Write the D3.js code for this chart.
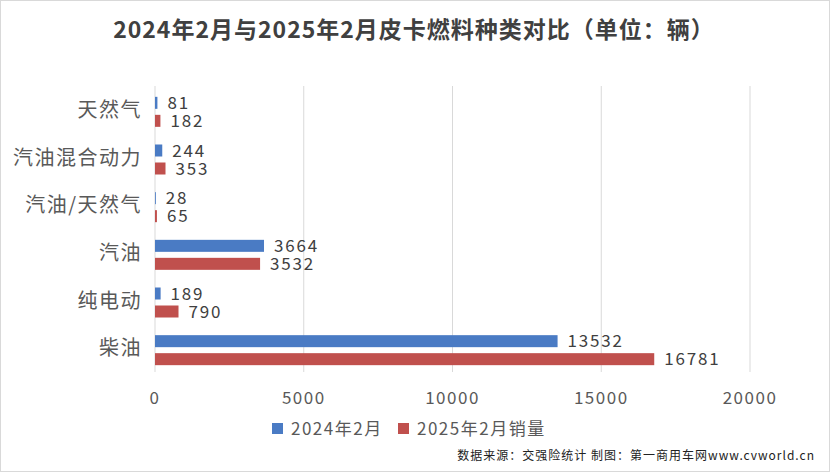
<!DOCTYPE html><html><head><meta charset="utf-8"><script src="https://cdn.jsdelivr.net/npm/d3@7"></script>
<style>body{margin:0;background:#fff}svg{font-family:"Noto Sans CJK SC","Noto Sans",sans-serif}</style></head><body><svg id="c" width="830" height="472"></svg><script>
const categories=["天然气","汽油混合动力","汽油/天然气","汽油","纯电动","柴油"];
const s2024=[81,244,28,3664,189,13532];
const s2025=[182,353,65,3532,790,16781];
const seriesNames=["2024年2月","2025年2月销量"];
const xTicks=[0,5000,10000,15000,20000];
const colors=["#4a7bc4","#c0504d"];
const svg=d3.select("#c");
svg.append("rect").attr("x",0.5).attr("y",0.5).attr("width",829).attr("height",471).attr("fill","#fff").attr("stroke","#d9d9d9");
svg.append("text").attr("x",414).attr("y",38).attr("text-anchor","middle").attr("font-size",23).attr("letter-spacing",1).attr("font-weight","bold").attr("fill","#404040").text("2024年2月与2025年2月皮卡燃料种类对比（单位：辆）");
const x=d3.scaleLinear().domain([0,20000]).range([155,750]);
const y=d3.scaleBand().domain(categories).range([86,372]);
svg.append("g").selectAll("line").data(xTicks).join("line").attr("x1",d=>x(d)).attr("x2",d=>x(d)).attr("y1",86).attr("y2",372).attr("stroke","#d9d9d9");
svg.append("g").selectAll("text").data(xTicks).join("text").attr("x",d=>x(d)).attr("y",404).attr("text-anchor","middle").attr("font-size",17).attr("letter-spacing",1.5).attr("fill","#595959").text(d=>d);
svg.append("g").selectAll("text").data(categories).join("text").attr("x",142).attr("y",d=>y(d)+y.bandwidth()/2+7).attr("text-anchor","end").attr("font-size",20).attr("letter-spacing",1.5).attr("fill","#595959").text(d=>d);
const bh=12;
[s2024,s2025].forEach((s,i)=>{
 const g=svg.append("g");
 const yy=c=>y(c)+y.bandwidth()/2+(i==0?-bh-3:3)+2;
 g.selectAll("rect").data(categories).join("rect").attr("x",x(0)).attr("y",c=>yy(c)).attr("height",bh).attr("width",(c,j)=>x(s[j])-x(0)).attr("fill",colors[i]);
 g.selectAll("text").data(categories).join("text").attr("x",(c,j)=>x(s[j])+10).attr("y",c=>yy(c)+bh/2+6).attr("font-size",17).attr("letter-spacing",1.8).attr("fill","#404040").text((c,j)=>s[j]);
});
const lg=svg.append("g");
[[272,0],[398,1]].forEach(([lx,i])=>{
 lg.append("rect").attr("x",lx).attr("y",423).attr("width",11).attr("height",11).attr("fill",colors[i]);
 lg.append("text").attr("x",lx+19).attr("y",435).attr("font-size",17).attr("letter-spacing",1.5).attr("fill","#595959").text(seriesNames[i]);
});
svg.append("text").attr("x",815).attr("y",460).attr("text-anchor","end").attr("font-size",12).attr("letter-spacing",1).attr("fill","#222").text("数据来源：交强险统计 制图：第一商用车网www.cvworld.cn");
</script></body></html>
